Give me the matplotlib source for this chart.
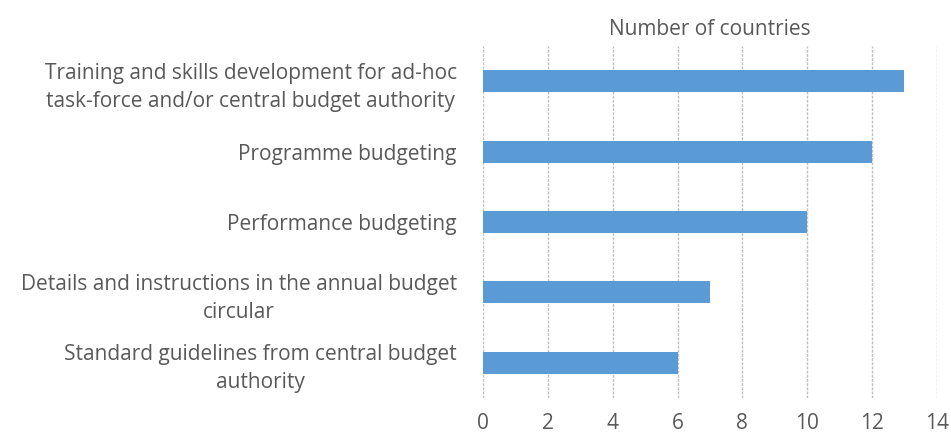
import matplotlib.pyplot as plt

# Data (top to bottom as shown)
categories = [
    "Training and skills development for ad-hoc\ntask-force and/or central budget authority",
    "Programme budgeting",
    "Performance budgeting",
    "Details and instructions in the annual budget\ncircular",
    "Standard guidelines from central budget\nauthority",
]
values = [13, 12, 10, 7, 6]
xticks = [0, 2, 4, 6, 8, 10, 12, 14]

text_color = '#595959'
plt.rcParams['font.family'] = ['Open Sans', 'DejaVu Sans']

fig = plt.figure(figsize=(9.51, 4.34), dpi=100)
ax = fig.add_axes([0.508, 0.083, 0.477, 0.811])

ypos = list(range(len(categories)))[::-1]
ax.barh(ypos, values, height=0.31, color='#5B9BD5', zorder=3)

ax.set_xlim(0, 14)
ax.set_ylim(-0.5, len(categories) - 0.5)
ax.set_xticks(xticks)
ax.set_yticks(ypos)
ax.set_yticklabels(categories, multialignment='center', linespacing=1.45)
ax.tick_params(axis='both', length=0, labelsize=15, colors=text_color)
ax.tick_params(axis='x', pad=11)
ax.tick_params(axis='y', pad=19)

ax.xaxis.set_label_position('top')
ax.set_xlabel('Number of countries', fontsize=15, color=text_color, labelpad=8)

ax.grid(axis='x', color='#c0c0c0', linestyle=(0, (2, 1)), linewidth=1, zorder=0)
ax.grid(axis='y', visible=False)
for s in ax.spines.values():
    s.set_visible(False)

fig.savefig('out.png', dpi=100)
